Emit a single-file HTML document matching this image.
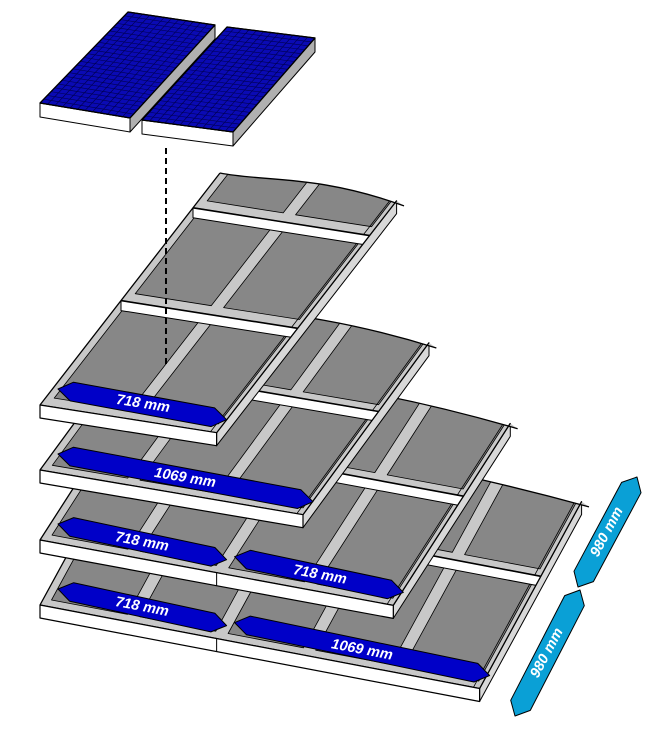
<!DOCTYPE html>
<html><head><meta charset="utf-8"><style>
html,body{margin:0;padding:0;background:#fff}
svg{display:block}
.lb{font-family:"Liberation Sans",sans-serif;font-weight:bold;font-style:italic;font-size:14.5px;fill:#fff}
</style></head><body>
<svg id="s" width="654" height="750" viewBox="0 0 654 750" xmlns="http://www.w3.org/2000/svg">
<g id="g"></g>
<g id="lbls">
<text class="lb" x="0" y="0" text-anchor="middle" dominant-baseline="central" transform="translate(143,404) rotate(8.9)">718 mm</text>
<text class="lb" x="0" y="0" text-anchor="middle" dominant-baseline="central" transform="translate(185,478) rotate(9.6)">1069 mm</text>
<text class="lb" x="0" y="0" text-anchor="middle" dominant-baseline="central" transform="translate(142,542) rotate(10.5)">718 mm</text>
<text class="lb" x="0" y="0" text-anchor="middle" dominant-baseline="central" transform="translate(320,575) rotate(10.5)">718 mm</text>
<text class="lb" x="0" y="0" text-anchor="middle" dominant-baseline="central" transform="translate(142,607) rotate(10.8)">718 mm</text>
<text class="lb" x="0" y="0" text-anchor="middle" dominant-baseline="central" transform="translate(362,650) rotate(10.8)">1069 mm</text>
<text class="lb" x="0" y="0" text-anchor="middle" dominant-baseline="central" transform="translate(607,532) rotate(-62)">980 mm</text>
<text class="lb" x="0" y="0" text-anchor="middle" dominant-baseline="central" transform="translate(547,653) rotate(-62)">980 mm</text>
</g>
</svg>
<script>
(function(){
var g=document.getElementById('g');var out='';
function pts(a){return a.map(function(p){return p[0].toFixed(1)+','+p[1].toFixed(1)}).join(' ');}
function poly(a,fill,sw,extra){out+='<polygon points="'+pts(a)+'" fill="'+fill+'" stroke="#000" stroke-width="'+(sw||1)+'" stroke-linejoin="round" '+(extra||'')+'/>';}
function lerp(p,q,t){return [p[0]+(q[0]-p[0])*t,p[1]+(q[1]-p[1])*t];}
function module(BL,BR,TR,TL){
  var t=14;
  poly([BL,BR,[BR[0],BR[1]+t],[BL[0],BL[1]+t]],'#fff',1);
  poly([BR,TR,[TR[0],TR[1]+t],[BR[0],BR[1]+t]],'#b0b0b0',1);
  poly([BL,BR,TR,TL],'#0a0ab4',1.2);
  var n=12,m=24,i;
  for(i=1;i<n;i++){var a=lerp(BL,BR,i/n),b=lerp(TL,TR,i/n);out+='<line x1="'+a[0]+'" y1="'+a[1]+'" x2="'+b[0]+'" y2="'+b[1]+'" stroke="#000050" stroke-width="0.6"/>';}
  for(i=1;i<m;i++){var a2=lerp(BL,TL,i/m),b2=lerp(BR,TR,i/m);out+='<line x1="'+a2[0]+'" y1="'+a2[1]+'" x2="'+b2[0]+'" y2="'+b2[1]+'" stroke="#000050" stroke-width="0.6"/>';}
  poly([BL,BR,TR,TL],'none',1.2);
}
module([40,103],[130,118],[215,25],[128,12]);
module([142,120],[233,132],[315,38],[227,27]);
var layers=[
 {F:[40,605],wy:.19,segs:[718,1069],D:[102,-187],cb:[0.6]},
 {F:[40,540],wy:.185,segs:[718,718],D:[117,-182],cb:[0.6]},
 {F:[40,470],wy:.17,segs:[1069],D:[126,-172],cb:[0.6]},
 {F:[40,405],wy:.157,segs:[718],D:[180,-232],cb:[0.45,0.85]}
];
var k=0;
function arrow(A,B,fill,h,c){
  var dx=B[0]-A[0],dy=B[1]-A[1],L=Math.sqrt(dx*dx+dy*dy),ux=dx/L,uy=dy/L,nx=-uy,ny=ux;
  poly([A,[A[0]+c*ux+h*nx,A[1]+c*uy+h*ny],[B[0]-c*ux+h*nx,B[1]-c*uy+h*ny],B,[B[0]-c*ux-h*nx,B[1]-c*uy-h*ny],[A[0]+c*ux-h*nx,A[1]+c*uy-h*ny]],fill,1);
}
layers.forEach(function(L){
  var W=0;L.segs.forEach(function(s){W+=s;});
  function P(a,f,dy){return [L.F[0]+a*0.246+f*L.D[0], L.F[1]+a*0.246*L.wy+f*L.D[1]+(dy||0)];}
  var t=13;k++;
  var p0=P(0,0),p1=P(W,0),p2=P(W,1),p3=P(0,1);
  var p2e=P(W+30,1,4);
  var c1=P(W*0.55,1,-14),c2=P(W*0.25,1,2);
  var top='M'+p0+' L'+p1+' L'+p2+' L'+p2e+' C'+c1+' '+c2+' '+p3+' Z';
  out+='<clipPath id="c'+k+'"><path d="'+top+'"/></clipPath>';
  poly([p1,p2,[p2[0],p2[1]+t],[p1[0],p1[1]+t]],'#d8d8d8',1);
  out+='<path d="'+top+'" fill="#c8c8c8" stroke="none"/>';
  out+='<g clip-path="url(#c'+k+')">';
  var bounds=[0].concat(L.cb).concat([1.15]);
  var a0=0;
  L.segs.forEach(function(s){
    var n=s>900?3:2,cw=s/n;
    for(var i=0;i<n;i++){
      var x0=a0+cw*i+cw*0.09,x1=a0+cw*(i+1)-cw*0.05;
      for(var r=0;r<bounds.length-1;r++){
        var f0=bounds[r]+0.035,f1=bounds[r+1]-0.03;
        poly([P(x0,f0),P(x1,f0),P(x1,f1),P(x0,f1)],'#878787',0.8);
      }
    }
    a0+=s;
  });
  out+='<line x1="'+P(W-25,0)[0]+'" y1="'+P(W-25,0)[1]+'" x2="'+P(W-25,1.2)[0]+'" y2="'+P(W-25,1.2)[1]+'" stroke="#000" stroke-width="0.8"/>';
  L.cb.forEach(function(f){
    poly([P(0,f),P(W,f),P(W,f,10),P(0,f,10)],'#fff',1);
    out+='<line x1="'+P(0,f)[0]+'" y1="'+P(0,f)[1]+'" x2="'+P(W,f)[0]+'" y2="'+P(W,f)[1]+'" stroke="#000" stroke-width="1.6"/>';
  });
  out+='</g>';
  out+='<path d="M'+p0+' L'+p1+' L'+p2+'" fill="none" stroke="#000" stroke-width="1.3"/>';
  out+='<path d="M'+p2e+' C'+c1+' '+c2+' '+p3+'" fill="none" stroke="#000" stroke-width="1.3"/>';
  out+='<line x1="'+p0[0]+'" y1="'+p0[1]+'" x2="'+p3[0]+'" y2="'+p3[1]+'" stroke="#000" stroke-width="1.3"/>';
  poly([p0,p1,[p1[0],p1[1]+t],[p0[0],p0[1]+t]],'#fff',1.2);
  var a=0;
  L.segs.forEach(function(s,i){
    var q=P(a,0);
    if(i>0){out+='<line x1="'+q[0]+'" y1="'+q[1]+'" x2="'+q[0]+'" y2="'+(q[1]+t)+'" stroke="#000" stroke-width="1"/>';}
    var A=P(a,0),B=P(a+s,0);
    arrow([A[0]+18,A[1]-16],[B[0]+10,B[1]-13],'#0000c8',9.5,14);
    a+=s;
  });
});
out+='<line x1="166" y1="148" x2="166" y2="366" stroke="#000" stroke-width="2" stroke-dasharray="6,4"/>';
arrow([578,587],[637,477],'#0aa0d6',11,12);
arrow([515,716],[580,590],'#0aa0d6',11,12);
g.innerHTML=out;
})();
</script>
</body></html>
